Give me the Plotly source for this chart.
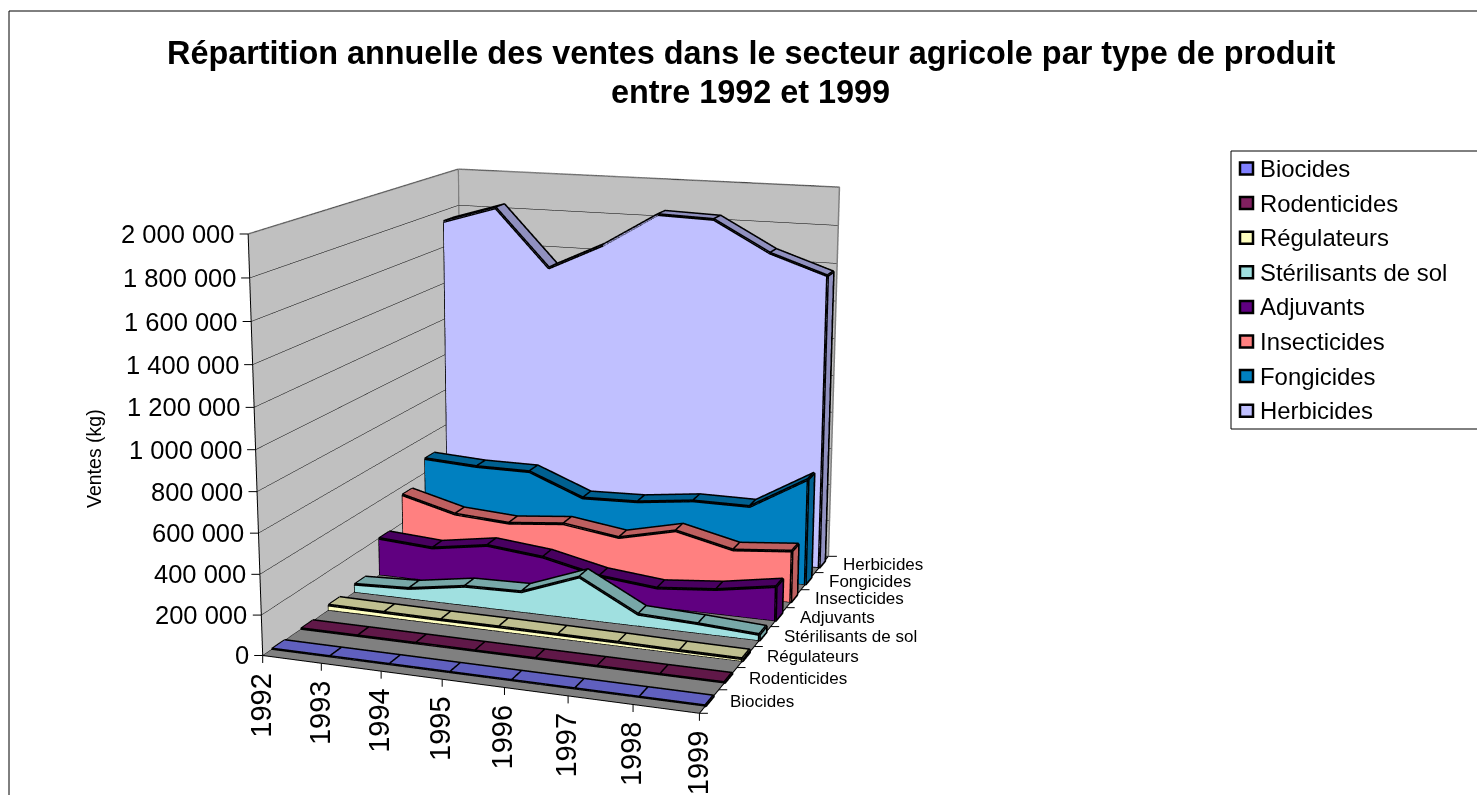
import plotly.graph_objects as go

years = ["1992", "1993", "1994", "1995", "1996", "1997", "1998", "1999"]
series_names = ["Biocides", "Rodenticides", "Régulateurs", "Stérilisants de sol",
                "Adjuvants", "Insecticides", "Fongicides", "Herbicides"]
biocides = [1500, 1500, 1500, 1500, 1500, 1500, 1500, 1500]
rodenticides = [3000, 3000, 3000, 2500, 2500, 2500, 2000, 2000]
regulateurs = [27000, 24000, 22000, 22000, 20000, 18000, 14000, 12000]
sterilisants = [42000, 54000, 100000, 106000, 217000, 60000, 48000, 30000]
adjuvants = [200000, 180000, 226000, 196000, 130000, 100000, 127000, 177000]
insecticides = [356000, 279000, 260000, 288000, 245000, 313000, 243000, 270000]
fongicides = [480000, 463000, 463000, 346000, 355000, 390000, 390000, 565000]
herbicides = [1740000, 1830000, 1520000, 1660000, 1840000, 1830000, 1670000, 1570000]
all_values = [biocides, rodenticides, regulateurs, sterilisants, adjuvants,
              insecticides, fongicides, herbicides]
front_colors = ["#8080FF", "#802060", "#FFFFC0", "#A0E0E0", "#600080", "#FF8080", "#0080C0", "#C0C0FF"]
top_colors = ["#6060BF", "#601848", "#BFBF90", "#78A8A8", "#480060", "#BF6060", "#006090", "#9090BF"]
value_ticks = [0, 200000, 400000, 600000, 800000, 1000000, 1200000, 1400000, 1600000, 1800000, 2000000]
value_labels = ["0", "200 000", "400 000", "600 000", "800 000", "1 000 000", "1 200 000",
                "1 400 000", "1 600 000", "1 800 000", "2 000 000"]

W, H, SHIFT = 1477, 1800, 490
BAND = (0.3, 0.72)
FONT = "Liberation Sans"
ZMAX = value_ticks[-1]


def px(x):
    return x / W


def py(y):
    return 1 - (y + SHIFT) / H


flat = dict(ambient=1, diffuse=0, specular=0, roughness=1, fresnel=0)
fig = go.Figure()
n = len(years)
m = len(series_names)

for i, vals in enumerate(all_values):
    y0, y1 = i + BAND[0], i + BAND[1]
    X, Y, Z = [], [], []
    for k, v in enumerate(vals):
        X += [k, k, k, k]
        Y += [y0, y0, y1, y1]
        Z += [0, v, v, 0]
    fi, fj, fk = [], [], []
    ti, tj, tk = [], [], []
    for k in range(n - 1):
        a, b = 4 * k, 4 * (k + 1)
        fi += [a, a + 1]; fj += [b, b]; fk += [a + 1, b + 1]
        ti += [a + 1, a + 2]; tj += [b + 1, b + 1]; tk += [a + 2, b + 2]
    e = 4 * (n - 1)
    ti += [e, e]; tj += [e + 1, e + 2]; tk += [e + 2, e + 3]
    fig.add_trace(go.Mesh3d(x=X, y=Y, z=Z, i=fi, j=fj, k=fk, color=front_colors[i],
                            flatshading=True, lighting=flat, hoverinfo="skip", name=series_names[i]))
    fig.add_trace(go.Mesh3d(x=X, y=Y, z=Z, i=ti, j=tj, k=tk, color=top_colors[i],
                            flatshading=True, lighting=flat, hoverinfo="skip", showlegend=False))
    lx, ly, lz = [], [], []
    for k, v in enumerate(vals):
        lx += [k]; ly += [y0]; lz += [v]
    lx += [n - 1, 0, 0, None]; ly += [y0, y0, y0, None]; lz += [0, 0, vals[0], None]
    for k, v in enumerate(vals):
        lx += [k]; ly += [y1]; lz += [v]
    lx += [n - 1, n - 1, None]; ly += [y1, y0, None]; lz += [0, 0, None]
    for k, v in enumerate(vals):
        lx += [k, k, None]; ly += [y0, y1, None]; lz += [v, v, None]
    fig.add_trace(go.Scatter3d(x=lx, y=ly, z=lz, mode="lines", line=dict(color="black", width=6),
                               hoverinfo="skip", showlegend=False))

# box edges
fig.add_trace(go.Scatter3d(x=[0, 0, n - 1, n - 1, None, 0, 0], y=[0, m, m, m, None, m, m],
                           z=[ZMAX, ZMAX, ZMAX, 0, None, ZMAX, 0], mode="lines",
                           line=dict(color="#808080", width=3), hoverinfo="skip", showlegend=False))
fig.add_trace(go.Scatter3d(x=[0, 0, n - 1, n - 1], y=[0, 0, 0, m], z=[ZMAX, 0, 0, 0], mode="lines",
                           line=dict(color="black", width=2), hoverinfo="skip", showlegend=False))

annots = []
for k, label in enumerate(years):
    annots.append(dict(x=k, y=0, z=0, text=label, textangle=-90, showarrow=False, yanchor="top",
                       yshift=-15, xshift=-2, font=dict(family=FONT, size=29, color="black")))
    annots.append(dict(x=k, y=0, z=0, text="", showarrow=True, arrowhead=0, arrowwidth=1, arrowcolor="black",
                       ax=0, ay=9, standoff=0))
for i, label in enumerate(series_names):
    annots.append(dict(x=n - 1, y=i + 0.5, z=0, text=label, xanchor="left", xshift=19, showarrow=False,
                       font=dict(family=FONT, size=17, color="black")))
for i in range(m + 1):
    annots.append(dict(x=n - 1, y=i, z=0, text="", showarrow=True, arrowhead=0, arrowwidth=1, arrowcolor="black",
                       ax=10, ay=0, standoff=0))
for v, label in zip(value_ticks, value_labels):
    annots.append(dict(x=0, y=0, z=v, text=label, xanchor="right", xshift=-12, showarrow=False,
                       font=dict(family=FONT, size=25.5, color="black")))
    annots.append(dict(x=0, y=0, z=v, text="", showarrow=True, arrowhead=0, arrowwidth=1, arrowcolor="black",
                       ax=-10, ay=0, standoff=0))

axis_common = dict(title="", showticklabels=False, showspikes=False, zeroline=False, showline=False, ticks="")
scene = dict(
    domain=dict(x=[0, 1130 / W], y=[0, 1]),
    aspectmode="manual", aspectratio=dict(x=1, y=1.137, z=0.935),
    camera=dict(eye=dict(x=1.672, y=-4.583, z=1.18), center=dict(x=0, y=0, z=0), up=dict(x=0, y=0, z=1)),
    xaxis=dict(range=[0, n - 1], tickvals=list(range(n)), showgrid=False, showbackground=True,
               backgroundcolor="#C0C0C0", **axis_common),
    yaxis=dict(range=[0, m], tickvals=list(range(m + 1)), showgrid=False, showbackground=True,
               backgroundcolor="#C0C0C0", **axis_common),
    zaxis=dict(range=[0, ZMAX], tickvals=value_ticks, showgrid=True, gridcolor="black", gridwidth=1,
               showbackground=True, backgroundcolor="#808080", **axis_common),
    annotations=annots,
)

line = dict(color="black", width=1)
shapes = [
    dict(type="line", xref="paper", yref="paper", x0=px(9), x1=px(9), y0=py(11), y1=py(795), line=line),
    dict(type="line", xref="paper", yref="paper", x0=px(9), x1=px(1477), y0=py(11), y1=py(11), line=line),
    dict(type="line", xref="paper", yref="paper", x0=px(1231), x1=px(1231), y0=py(151), y1=py(429), line=line),
    dict(type="line", xref="paper", yref="paper", x0=px(1231), x1=px(1477), y0=py(151), y1=py(151), line=line),
    dict(type="line", xref="paper", yref="paper", x0=px(1231), x1=px(1477), y0=py(429), y1=py(429), line=line),
]
title_lines = ["Répartition annuelle des ventes dans le secteur agricole par type de produit", "entre 1992 et 1999"]
layout_annots = [
    dict(xref="paper", yref="paper", x=px(751), y=py(53), xanchor="center", yanchor="middle", text="<b>" + title_lines[0] + "</b>",
         showarrow=False, font=dict(family=FONT, size=32.4, color="black")),
    dict(xref="paper", yref="paper", x=px(751), y=py(92), xanchor="center", yanchor="middle", text="<b>" + title_lines[1] + "</b>",
         showarrow=False, font=dict(family=FONT, size=32.4, color="black")),
    dict(xref="paper", yref="paper", x=px(94), y=py(459), xanchor="center", yanchor="middle", text="Ventes (kg)", textangle=-90,
         showarrow=False, font=dict(family=FONT, size=19.5, color="black")),
]
for i, label in enumerate(series_names):
    yc = 168.5 + i * 34.6
    shapes.append(dict(type="rect", xref="paper", yref="paper", x0=px(1240), x1=px(1253), y0=py(yc - 6), y1=py(yc + 6),
                       fillcolor=front_colors[i], line=dict(color="black", width=2.5)))
    layout_annots.append(dict(xref="paper", yref="paper", x=px(1258), y=py(yc), xanchor="left", yanchor="middle", text=label,
                              showarrow=False, font=dict(family=FONT, size=23.9, color="black")))

fig.update_layout(width=W, height=H, margin=dict(l=0, r=0, t=0, b=0), paper_bgcolor="white",
                  showlegend=False, scene=scene, shapes=shapes, annotations=layout_annots,
                  hovermode=False)
post = ("var gd=document.getElementById('{plot_id}');gd.style.marginTop='-" + str(SHIFT) + "px';"
        "document.body.style.margin='0';document.body.style.overflow='hidden';"
        "document.documentElement.style.overflow='hidden';")
fig.write_html("out.html", post_script=post, config={"displayModeBar": False})
